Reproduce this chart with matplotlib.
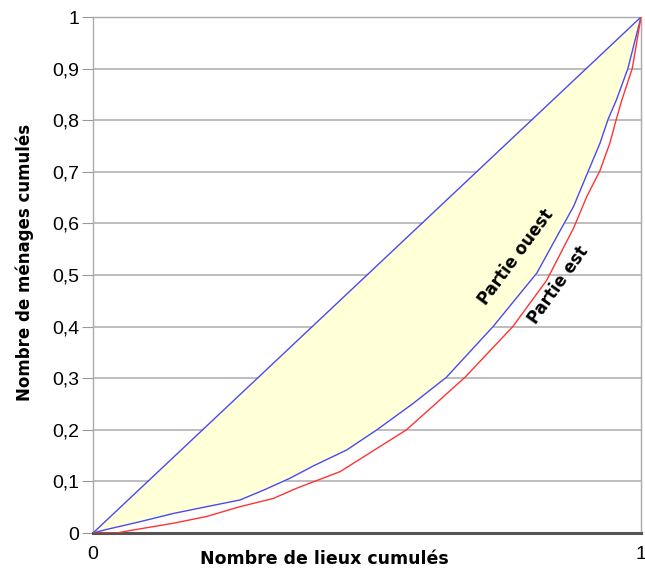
import matplotlib.pyplot as plt

# courbes de Lorenz
x_ouest = [0, 0.025, 0.086, 0.147, 0.207, 0.268, 0.311, 0.359, 0.402, 0.463, 0.518, 0.584, 0.645,
           0.73, 0.81, 0.855, 0.877, 0.904, 0.925, 0.940, 0.955, 0.976, 1]
y_ouest = [0, 0.007, 0.022, 0.038, 0.051, 0.064, 0.083, 0.106, 0.130, 0.161, 0.200, 0.251, 0.302,
           0.40, 0.504, 0.591, 0.633, 0.702, 0.755, 0.802, 0.839, 0.90, 1]

x_est = [0, 0.043, 0.074, 0.147, 0.207, 0.268, 0.329, 0.372, 0.451, 0.572, 0.633, 0.679,
         0.766, 0.828, 0.877, 0.901, 0.925, 0.943, 0.955, 0.965, 0.984, 1]
y_est = [0, 0.0, 0.006, 0.019, 0.032, 0.051, 0.067, 0.087, 0.119, 0.200, 0.258, 0.302,
         0.40, 0.49, 0.591, 0.652, 0.702, 0.755, 0.802, 0.839, 0.90, 1]

yticks = [i / 10 for i in range(11)]
ylabels = ['0'] + ['0,%d' % i for i in range(1, 10)] + ['1']

fig = plt.figure(figsize=(6.45, 5.75), dpi=100)
ax = fig.add_axes([0.1442, 0.0730, 0.8496, 0.8974])

ax.fill_between(x_ouest, x_ouest, y_ouest, color='#FFFFD8', lw=0, zorder=1)
for y in yticks[1:]:
    ax.axhline(y, color='#BDBDBD', lw=1.4, zorder=0)

ax.plot([0, 1], [0, 1], color='#4A4AF0', lw=1, zorder=3)
ax.plot(x_ouest, y_ouest, color='#4A4AF0', lw=1, zorder=3)
ax.plot(x_est, y_est, color='#FF3333', lw=1, zorder=3)

ax.text(0.772, 0.535, 'Partie ouest', rotation=53.5, ha='center', va='center',
        fontsize=12, fontweight='bold', zorder=4)
ax.text(0.849, 0.481, 'Partie est', rotation=54.5, ha='center', va='center',
        fontsize=12, fontweight='bold', zorder=4)

ax.set_xlim(0, 1)
ax.set_ylim(0, 1)
ax.set_yticks(yticks)
ax.set_yticklabels(ylabels, fontsize=14, family='Liberation Sans')
ax.set_xticks([0, 1])
ax.set_xticklabels(['0', '1'], fontsize=14, family='Liberation Sans')
ax.tick_params(axis='y', length=8, color='#999999', pad=2)
ax.tick_params(axis='x', length=0, pad=9)

for s in ['top', 'right', 'left']:
    ax.spines[s].set_color('#AAAAAA')
    ax.spines[s].set_linewidth(1)
ax.spines['bottom'].set_color('#555555')
ax.spines['bottom'].set_linewidth(2.2)

ax.set_ylabel('Nombre de ménages cumulés', fontsize=12, fontweight='bold')
ax.yaxis.set_label_coords(-0.107, 0.525)
ax.set_xlabel('Nombre de lieux cumulés', fontsize=12.5, fontweight='bold')
ax.xaxis.set_label_coords(0.4215, -0.033)

fig.savefig('out.png', dpi=100)
